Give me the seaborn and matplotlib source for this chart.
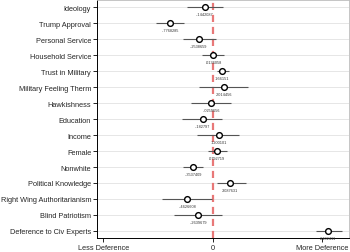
import matplotlib
matplotlib.use("Agg")
import matplotlib.pyplot as plt
import seaborn as sns
import pandas as pd

categories = ["Ideology", "Trump Approval", "Personal Service", "Household Service",
              "Trust in Military", "Military Feeling Therm", "Hawkishness", "Education",
              "Income", "Female", "Nonwhite", "Political Knowledge",
              "Right Wing Authoritarianism", "Blind Patriotism", "Deference to Civ Experts"]
coef = [-0.1442087, -0.7768285, -0.2538659, 0.0136058, 0.166151, 0.2014456, -0.0259656,
        -0.182797, 0.1200101, 0.0792719, -0.3537409, 0.3087631, -0.4626608, -0.2639679,
        2.102411]
ci_low = [-0.47, -1.03, -0.55, -0.19, 0.07, -0.25, -0.39, -0.56, -0.28, -0.08, -0.54,
          0.07, -0.92, -0.70, 1.89]
ci_high = [0.19, -0.52, 0.06, 0.21, 0.30, 0.65, 0.33, 0.17, 0.48, 0.26, -0.18, 0.61,
           -0.01, 0.17, 2.36]
xtick_vals = [-2, 0, 2]
xtick_labels = ["Less Deference", "0", "More Deference"]


def stata_fmt(v):
    s = "%.7g" % v
    s = s.replace("-0.", "-.")
    if s.startswith("0."):
        s = s[1:]
    return s


df = pd.DataFrame({"var": categories, "coef": coef, "lo": ci_low, "hi": ci_high})

sns.set_style("white")
plt.rcParams["font.family"] = ["Liberation Sans", "DejaVu Sans"]

fig = plt.figure(figsize=(3.5, 2.53), dpi=100)
ax = fig.add_axes([97 / 350, 14 / 253, 252 / 350, 238.5 / 253])

for i in range(len(categories)):
    ax.axhline(i, color="#e6e6e6", lw=0.7, zorder=0)

ax.axvline(0, color="#e87878", lw=1.6, ls=(0, (3.2, 2.2)), zorder=1)

ax.hlines(df["var"], df["lo"], df["hi"], color="#555555", lw=0.8, zorder=2)
sns.scatterplot(data=df, x="coef", y="var", ax=ax, marker="o", s=17,
                facecolor="white", edgecolor="black", linewidth=1.0, zorder=3)

for i, v in enumerate(coef):
    ax.text(v, i + 0.44, stata_fmt(v), ha="center", va="center", fontsize=2.8,
            color="#333333", zorder=4)

ax.set_xlim(-2.115, 2.49)
ax.set_ylim(14.45, -0.5)
ax.set_xticks(xtick_vals)
ax.set_xticklabels(xtick_labels)
ax.set_xlabel("")
ax.set_ylabel("")
ax.tick_params(axis="y", length=3, width=0.6, pad=1.2, labelsize=5.3, left=True,
               color="black")
ax.tick_params(axis="x", length=3, width=0.6, pad=1.5, labelsize=5.3, bottom=True,
               color="black")

for side in ["left", "bottom"]:
    ax.spines[side].set_color("black")
    ax.spines[side].set_linewidth(0.7)
for side in ["top", "right"]:
    ax.spines[side].set_color("#bbbbbb")
    ax.spines[side].set_linewidth(0.6)

fig.savefig("out.png", dpi=100)
